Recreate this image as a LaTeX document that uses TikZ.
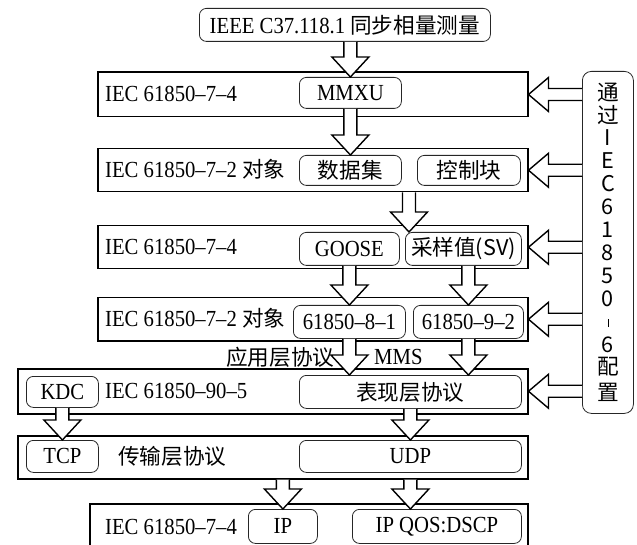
\documentclass[tikz,border=0pt]{standalone}
\usepackage{fontspec}
\setmainfont{Liberation Serif}[FakeStretch=0.9]
\newfontfamily\cjk{Noto Sans CJK SC}[Scale=0.94]
\usepackage{graphicx}
\usetikzlibrary{calc}
\newcommand{\blkdown}[2]{\draw[blk] let \p1=(#1), \p2=(#2) in
  (\x1-6.5pt,\y1) -- (\x1-6.5pt,\y2+20pt) -- (\x1-18.5pt,\y2+20pt) -- (\x1,\y2)
  -- (\x1+18.5pt,\y2+20pt) -- (\x1+6.5pt,\y2+20pt) -- (\x1+6.5pt,\y1);}
\newcommand{\blkleft}[2]{\draw[blk] let \p1=(#1), \p2=(#2) in
  (\x1,\y1+6pt) -- (\x2+20pt,\y1+6pt) -- (\x2+20pt,\y1+17pt) -- (\x2,\y1)
  -- (\x2+20pt,\y1-17pt) -- (\x2+20pt,\y1-6pt) -- (\x1,\y1-6pt);}
\begin{document}
\begin{tikzpicture}[x=1pt,y=-1pt,
  font=\fontsize{23pt}{26pt}\selectfont,
  bigbox/.style={draw, line width=1.5pt, inner sep=0pt, anchor=north west},
  rbox/.style={draw=black!85, line width=0.8pt, rounded corners=7pt, inner sep=0pt, anchor=north west},
  lab/.style={anchor=west, inner sep=0pt},
  blk/.style={draw, line width=1.4pt, fill=white, line join=miter}]
\useasboundingbox (0,0) rectangle (637,545);
\clip (0,0) rectangle (637,545);

% top
\node[rbox, minimum width=291pt, minimum height=33pt] (top) at (199,8) {IEEE C37.118.1 \cjk{同步相量测量}};

% layer 1
\node[bigbox, minimum width=430pt, minimum height=44.5pt] (box1) at (97,71.5) {};
\node[lab] (lab1) at (105,94) {IEC 61850–7–4};
\node[rbox, minimum width=102pt, minimum height=31pt] (mmxu) at (299,77) {MMXU};

% layer 2
\node[bigbox, minimum width=430pt, minimum height=43pt] (box2) at (97,148) {};
\node[lab] (lab2) at (105,169.5) {IEC 61850–7–2 \cjk{对象}};
\node[rbox, minimum width=102pt, minimum height=30pt] (dataset) at (299,155) {\cjk{数据集}};
\node[rbox, minimum width=103pt, minimum height=30pt] (ctrl) at (417,155) {\cjk{控制块}};

% layer 3
\node[bigbox, minimum width=430pt, minimum height=43pt] (box3) at (97,225) {};
\node[lab] (lab3) at (105,246.5) {IEC 61850–7–4};
\node[rbox, minimum width=100pt, minimum height=33pt] (goose) at (299,232) {GOOSE};
\node[rbox, minimum width=116pt, minimum height=33pt] (sv) at (405,232) {\cjk{采样值}(SV)};

% layer 4
\node[bigbox, minimum width=430pt, minimum height=43pt] (box4) at (97,297) {};
\node[lab] (lab4) at (105,318.5) {IEC 61850–7–2 \cjk{对象}};
\node[rbox, minimum width=112pt, minimum height=33pt] (n81) at (293,305) {61850–8–1};
\node[rbox, minimum width=110pt, minimum height=33pt] (n92) at (413,305) {61850–9–2};

\node[lab] (app) at (226,357) {\cjk{应用层协议}};
\node[lab] (mms) at (374,357) {MMS};

% layer 5
\node[bigbox, minimum width=510pt, minimum height=45pt] (box5) at (17,368) {};
\node[rbox, minimum width=72pt, minimum height=31pt] (kdc) at (26,376) {KDC};
\node[lab] (lab5) at (105,390.5) {IEC 61850–90–5};
\node[rbox, minimum width=222pt, minimum height=33pt] (pres) at (299,375) {\cjk{表现层协议}};

% layer 6
\node[bigbox, minimum width=510pt, minimum height=43pt] (box6) at (17,435) {};
\node[rbox, minimum width=72pt, minimum height=32pt] (tcp) at (26,440) {TCP};
\node[lab] (lab6) at (118,456.5) {\cjk{传输层协议}};
\node[rbox, minimum width=222pt, minimum height=32pt] (udp) at (299,440) {UDP};

% layer 7
\node[bigbox, minimum width=438pt, minimum height=50pt] (box7) at (89,503) {};
\node[lab] (lab7) at (105,527) {IEC 61850–7–4};
\node[rbox, minimum width=69pt, minimum height=34pt] (ip) at (248,509) {IP};
\node[rbox, minimum width=169pt, minimum height=34pt] (ipqos) at (352,509) {IP QOS:DSCP};

% config node
\node[rbox, minimum width=51pt, minimum height=342pt, rounded corners=9pt, align=center,
  text width=44pt] (cfg) at (582,71)
  {\baselineskip=22.9pt\lineskiplimit=-30pt\lineskip=0pt
   \cjk{通}\\\cjk{过}\\I\\E\\C\\6\\1\\8\\5\\0\\\rule[2pt]{0.7pt}{8pt}\\6\\\cjk{配}\\\cjk{置}};

% helper coordinates
\coordinate (a3) at (409,0);

% down arrows
\blkdown{top.south -| mmxu.north}{mmxu.north}
\blkdown{mmxu.south}{dataset.north}
\blkdown{box2.south -| a3}{sv.north -| a3}
\blkdown{goose.south}{n81.north -| goose.south}
\blkdown{sv.south -| n92.north}{n92.north}
\blkdown{n81.south}{pres.north -| n81.south}
\blkdown{n92.south}{pres.north -| n92.south}
\blkdown{kdc.south}{tcp.north -| kdc.south}
\blkdown{pres.south}{udp.north -| pres.south}
\blkdown{box6.south -| ip.north}{ip.north}
\blkdown{box6.south -| udp.north}{ipqos.north -| udp.north}

% left arrows from config
\blkleft{cfg.west |- box1.east}{box1.east}
\blkleft{cfg.west |- box2.east}{box2.east}
\blkleft{cfg.west |- box3.east}{box3.east}
\blkleft{cfg.west |- box4.east}{box4.east}
\blkleft{cfg.west |- box5.east}{box5.east}
\end{tikzpicture}
\end{document}
